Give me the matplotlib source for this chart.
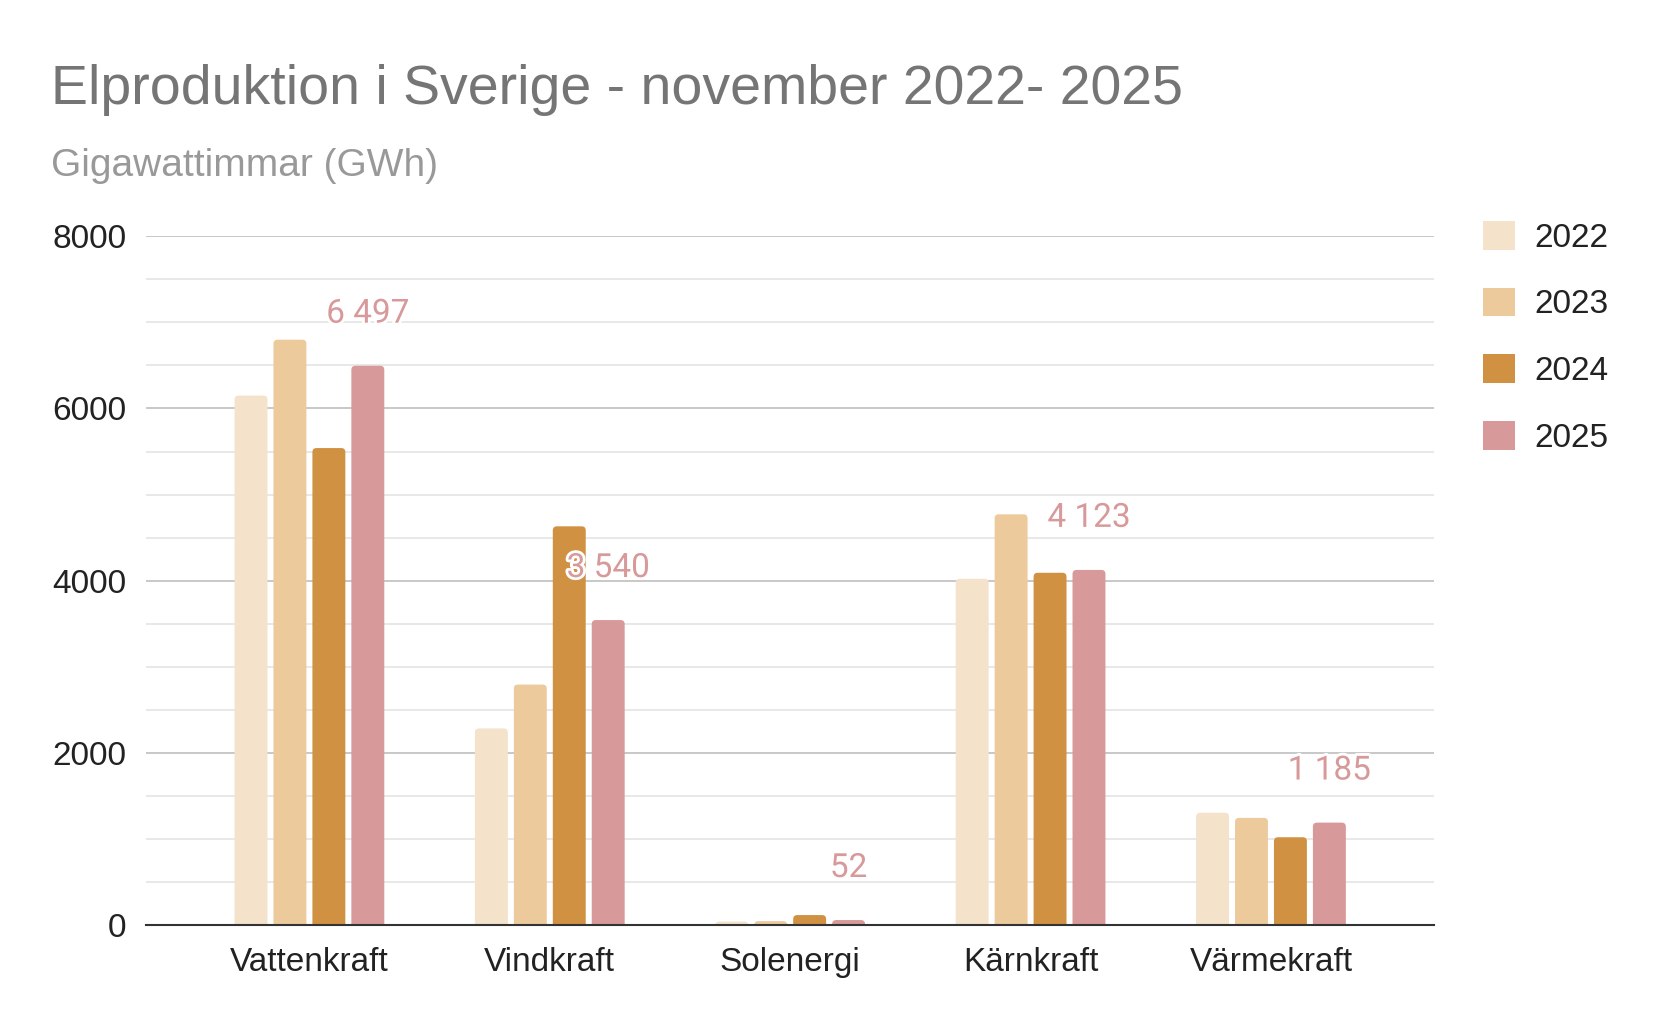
import matplotlib
matplotlib.use('Agg')
import matplotlib.pyplot as plt
import matplotlib.patheffects as pe
from matplotlib.patches import Patch, FancyBboxPatch
from matplotlib.ticker import MultipleLocator
import numpy as np

# Data (GWh, november)
categories = ['Vattenkraft', 'Vindkraft', 'Solenergi', 'Kärnkraft', 'Värmekraft']
years = ['2022', '2023', '2024', '2025']
v2022 = [6150, 2280, 35, 4020, 1300]
v2023 = [6800, 2790, 40, 4770, 1240]
v2024 = [5540, 4630, 110, 4090, 1015]
v2025 = [6497, 3540, 52, 4123, 1185]
labels_2025 = ['6 497', '3 540', '52', '4 123', '1 185']

colors = ['#f4e2cb', '#edca9c', '#d09143', '#d8999a']
series = [v2022, v2023, v2024, v2025]

plt.rcParams['font.family'] = ['Liberation Sans', 'DejaVu Sans']

fig = plt.figure(figsize=(16.66, 10.30), dpi=100)
ax = fig.add_axes([0.0876, 0.1024, 0.7734, 0.668])

x = np.arange(len(categories))
step = 0.162
width = 0.137
for i, vals in enumerate(series):
    offs = (i - 1.5) * step
    bars = ax.bar(x + offs, vals, width, color=colors[i], zorder=3)
    # swap plain rectangles for ones with rounded corners
    for b in bars:
        b.set_visible(False)
        r = 0.017
        asp = 2790
        p = FancyBboxPatch((b.get_x(), -r * asp), b.get_width(), b.get_height() + r * asp,
                           boxstyle='round,pad=0,rounding_size=%f' % r,
                           mutation_aspect=asp, facecolor=colors[i],
                           edgecolor='none', zorder=3)
        ax.add_patch(p)

# labels on 2025 bars
for xi, val, lab in zip(x, v2025, labels_2025):
    ax.annotate(lab, (xi + 1.5 * step, val), xytext=(0, 31), textcoords='offset points',
                ha='center', va='baseline', fontsize=24, color='#d8999a',
                family=['Roboto', 'DejaVu Sans'], zorder=5,
                path_effects=[pe.withStroke(linewidth=4, foreground='white')])

ax.set_xlim(-0.68, 4.68)
ax.set_ylim(0, 8000)
ax.set_xticks(x)
ax.set_xticklabels(categories)
ax.yaxis.set_major_locator(MultipleLocator(2000))
ax.yaxis.set_minor_locator(MultipleLocator(500))
ax.grid(True, which='major', axis='y', color='#c8c8c8', linewidth=1.4, zorder=1)
ax.grid(True, which='minor', axis='y', color='#e6e6e6', linewidth=1.3, zorder=1)
ax.tick_params(axis='both', which='both', length=0, labelsize=24, colors='#222222')
ax.tick_params(axis='y', pad=14)
ax.tick_params(axis='x', pad=16)
for s in ['top', 'right', 'left']:
    ax.spines[s].set_visible(False)
ax.spines['bottom'].set_color('#333333')
ax.spines['bottom'].set_linewidth(1.5)
ax.spines['bottom'].set_zorder(4)

fig.text(0.0307, 0.899, 'Elproduktion i Sverige - november 2022- 2025',
         fontsize=40, color='#757575', va='baseline', ha='left')
fig.text(0.0307, 0.829, 'Gigawattimmar (GWh)', fontsize=28, color='#999999',
         va='baseline', ha='left')

handles = [Patch(facecolor=c, edgecolor='none') for c in colors]
leg = ax.legend(handles, years, loc='upper left', bbox_to_anchor=(1.027, 1.042),
                frameon=False, fontsize=24, handlelength=0.96, handleheight=0.96,
                handletextpad=0.6, labelspacing=1.01, borderaxespad=0)
for t in leg.get_texts():
    t.set_color('#222222')

plt.savefig('out.png', dpi=100)
